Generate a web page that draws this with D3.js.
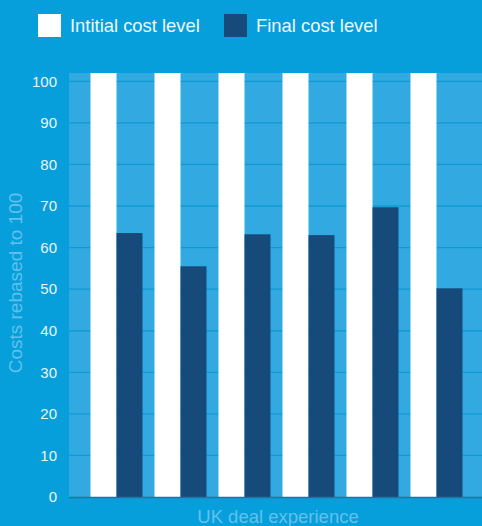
<!DOCTYPE html>
<html><head><meta charset="utf-8">
<script src="https://cdn.jsdelivr.net/npm/d3@7/dist/d3.min.js"></script>
<style>body{margin:0;background:#069fdb;}svg{display:block;}</style>
</head><body>
<script>
const categories = ["Deal 1","Deal 2","Deal 3","Deal 4","Deal 5","Deal 6"];
const initialCost = [102,102,102,102,102,102];
const finalCost = [63.5,55.5,63.2,63.0,69.7,50.2];
const yTicks = [0,10,20,30,40,50,60,70,80,90,100];
const seriesNames = ["Intitial cost level","Final cost level"];

(function(){
const W=482,H=526;
const svg=d3.select("body").append("svg").attr("width",W).attr("height",H);
svg.append("rect").attr("width",W).attr("height",H).attr("fill","#069fdb");
const pL=69,pR=484,pT=73,pB=497;
const y=d3.scaleLinear().domain([0,102]).range([pB,pT]);
const x0=d3.scaleBand().domain(categories).range([pL,pR]).paddingInner(0.1875).paddingOuter(0.336);
const x1=d3.scaleBand().domain([0,1]).range([0,x0.bandwidth()]);

svg.append("rect").attr("x",pL).attr("y",pT).attr("width",pR-pL).attr("height",pB-pT).attr("fill","#33a9e1");
svg.append("g").selectAll("line").data(yTicks.filter(d=>d>0)).join("line")
 .attr("x1",pL).attr("x2",pR).attr("y1",d=>y(d)).attr("y2",d=>y(d))
 .attr("stroke","#0f9ad6").attr("stroke-width",1.3);

const g=svg.append("g").selectAll("g").data(categories).join("g").attr("transform",d=>`translate(${x0(d)},0)`);
g.append("rect").attr("x",x1(0)).attr("width",x1.bandwidth())
 .attr("y",(d,i)=>y(initialCost[i])).attr("height",(d,i)=>y(0)-y(initialCost[i])).attr("fill","#ffffff");
g.append("rect").attr("x",x1(1)).attr("width",x1.bandwidth())
 .attr("y",(d,i)=>y(finalCost[i])).attr("height",(d,i)=>y(0)-y(finalCost[i])).attr("fill","#164a7b");

svg.append("line").attr("x1",pL).attr("x2",pR).attr("y1",y(0)+0.5).attr("y2",y(0)+0.5).attr("stroke","#2f6d9f").attr("stroke-width",1.5);

const yAxis=d3.axisLeft(y).tickValues(yTicks).tickSize(0).tickPadding(12);
const ya=svg.append("g").attr("transform",`translate(${pL},0)`).call(yAxis);
ya.select(".domain").remove();
ya.selectAll("text").attr("fill","#e8f5fc").attr("font-family","Liberation Sans, Arial, sans-serif").attr("font-size",15);

svg.append("text").attr("transform","translate(22,283) rotate(-90)").attr("text-anchor","middle")
 .attr("fill","#62c1ec").attr("font-family","Liberation Sans, Arial, sans-serif").attr("font-size",19).text("Costs rebased to 100");
svg.append("text").attr("x",278).attr("y",523).attr("text-anchor","middle")
 .attr("fill","#62c1ec").attr("font-family","Liberation Sans, Arial, sans-serif").attr("font-size",18.5).text("UK deal experience");

const legX=[38,224], legCol=["#ffffff","#164a7b"];
const leg=svg.append("g").selectAll("g").data(seriesNames).join("g").attr("transform",(d,i)=>`translate(${legX[i]},14)`);
leg.append("rect").attr("width",23).attr("height",23).attr("fill",(d,i)=>legCol[i]);
leg.append("text").attr("x",32).attr("y",18).attr("fill","#eef8fd").attr("font-family","Liberation Sans, Arial, sans-serif").attr("font-size",18.4).text(d=>d);
})();
</script>
</body></html>
